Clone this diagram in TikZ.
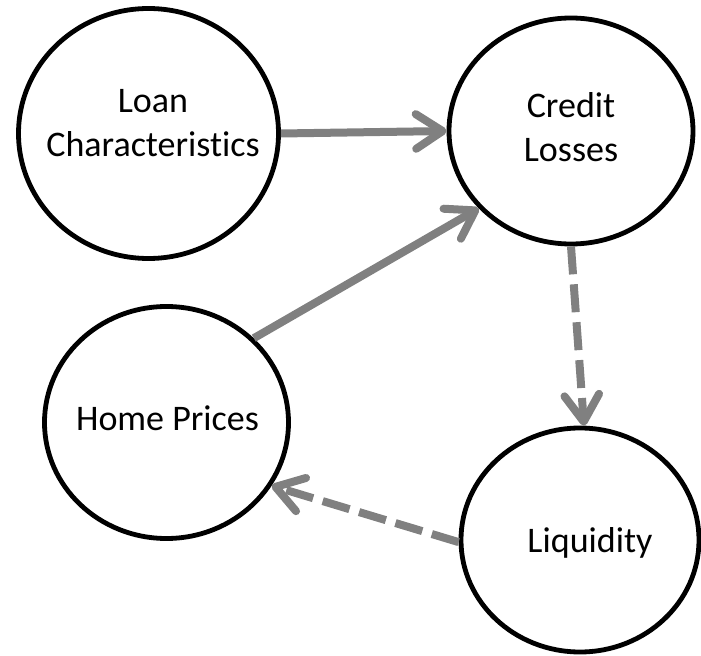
\documentclass[tikz,border=0pt]{standalone}
\usepackage{fontspec}
\setmainfont{Carlito}[Ligatures={NoCommon}]
\usetikzlibrary{shapes.geometric,arrows.meta}
\definecolor{arrowgray}{RGB}{128,128,128}
\tikzset{
  bubble/.style={draw=black, line width=3.6pt, ellipse, inner sep=0pt, fill=white},
  lbl/.style={font=\fontsize{27}{33}\selectfont, align=center, inner sep=0pt, text=black},
  link/.style={draw=arrowgray, line width=6pt,
    -{Straight Barb[length=20pt,width=26pt,round]}},
  dlink/.style={link, dash pattern=on 21pt off 7.5pt},
}
\begin{document}
\begin{tikzpicture}[x=0.75pt,y=-0.75pt]
\useasboundingbox (0,0) rectangle (701,656);
\node[bubble, minimum width=195pt, minimum height=187.5pt] (loan) at (148.5,133.5) {};
\node[bubble, minimum width=183pt, minimum height=169.5pt] (credit) at (571,131) {};
\node[bubble, minimum width=183pt, minimum height=174pt] (home) at (166.5,422.5) {};
\node[bubble, minimum width=178.5pt, minimum height=168pt] (liq) at (580,540) {};
\node[lbl] (tloan) at (153,123) {Loan\\Characteristics};
\node[lbl] (tcredit) at (571,127) {Credit\\Losses};
\node[lbl] (thome) at (167.5,418) {Home Prices};
\node[lbl] (tliq) at (590,543) {Liquidity};
\draw[link] (loan.east) -- (credit.west);
\draw[link] (home.44) -- (credit.220);
\draw[dlink] (credit.270) -- (liq.88);
\draw[dlink] (liq.181) -- (home.329);
\end{tikzpicture}
\end{document}
